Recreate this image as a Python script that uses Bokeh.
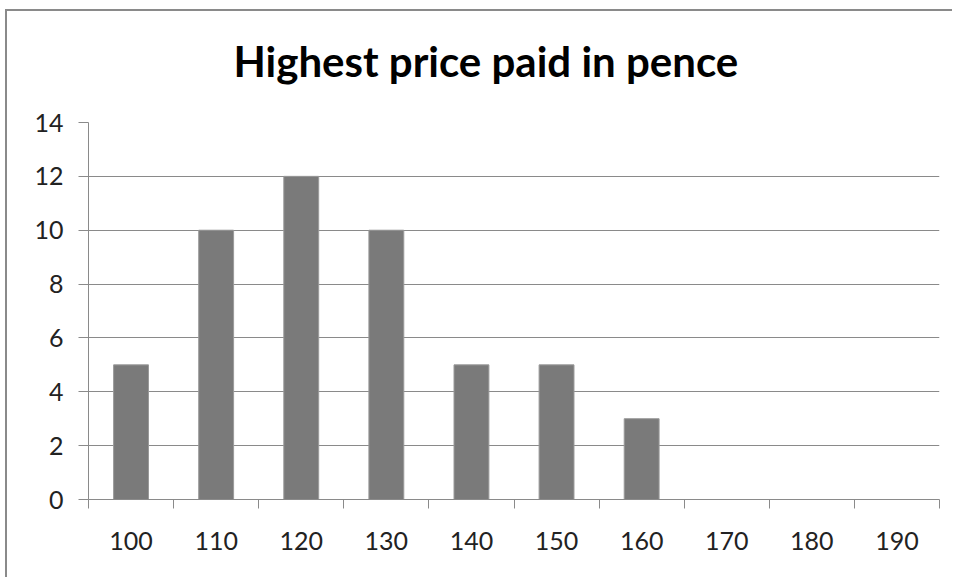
from bokeh.plotting import figure
from bokeh.models import FixedTicker, Range1d, ColumnDataSource, Title
from bokeh.embed import file_html
from bokeh.resources import INLINE

# Data
categories = [100, 110, 120, 130, 140, 150, 160, 170, 180, 190]
counts = [5, 10, 12, 10, 5, 5, 3, 0, 0, 0]
y_ticks = [0, 2, 4, 6, 8, 10, 12, 14]
title_text = "Highest price paid in pence"

step = categories[1] - categories[0]
boundaries = [c - step / 2 for c in categories] + [categories[-1] + step / 2]

src = ColumnDataSource(data=dict(x=categories, top=counts))

p = figure(width=947, height=568, output_backend="svg", toolbar_location=None,
           x_range=Range1d(boundaries[0], boundaries[-1]),
           y_range=Range1d(0, 14),
           min_border_left=81, min_border_right=15,
           min_border_top=111, min_border_bottom=80)
p.styles = {"border-top": "2px solid #8a8a8a", "border-left": "2px solid #8a8a8a",
            "margin-top": "9px", "margin-left": "5px"}
p.outline_line_color = None
p.background_fill_color = "white"
p.border_fill_color = "white"

p.vbar(x="x", top="top", width=step * 0.41, bottom=0, source=src,
       fill_color="#7a7a7a", line_color="#9a9a9a", line_width=1)

# Axes
gray = "#8a8a8a"
font = "Lato"
p.xaxis.ticker = FixedTicker(ticks=categories, minor_ticks=boundaries)
p.xaxis.major_tick_out = 0
p.xaxis.major_tick_in = 0
p.xaxis.minor_tick_out = 9
p.xaxis.minor_tick_in = 0
p.xaxis.minor_tick_line_color = gray
p.xaxis.axis_line_color = gray
p.xaxis.major_label_standoff = 23
p.xaxis.major_label_text_font = font
p.xaxis.major_label_text_font_size = "25px"
p.xaxis.major_label_text_color = "#222222"

p.yaxis.ticker = FixedTicker(ticks=y_ticks)
p.yaxis.major_tick_out = 10
p.yaxis.major_tick_in = 0
p.yaxis.minor_tick_line_color = None
p.yaxis.major_tick_line_color = gray
p.yaxis.axis_line_color = gray
p.yaxis.major_label_standoff = 15
p.yaxis.major_label_text_font = font
p.yaxis.major_label_text_font_size = "25px"
p.yaxis.major_label_text_color = "#222222"

p.xgrid.grid_line_color = None
p.ygrid.grid_line_color = gray
p.ygrid.grid_line_width = 1

# Spacer between the title and the plot area
p.add_layout(Title(text=" ", text_font=font, text_font_size="10px", standoff=0), "above")

# Title
p.title.text = title_text
p.title.align = "left"
p.title.offset = 145
p.title.vertical_align = "top"
p.title.text_font = font
p.title.text_font_style = "bold"
p.title.text_font_size = "42px"
p.title.text_color = "#000000"
p.title.standoff = 42

open("out.html", "w").write(file_html(p, INLINE))
